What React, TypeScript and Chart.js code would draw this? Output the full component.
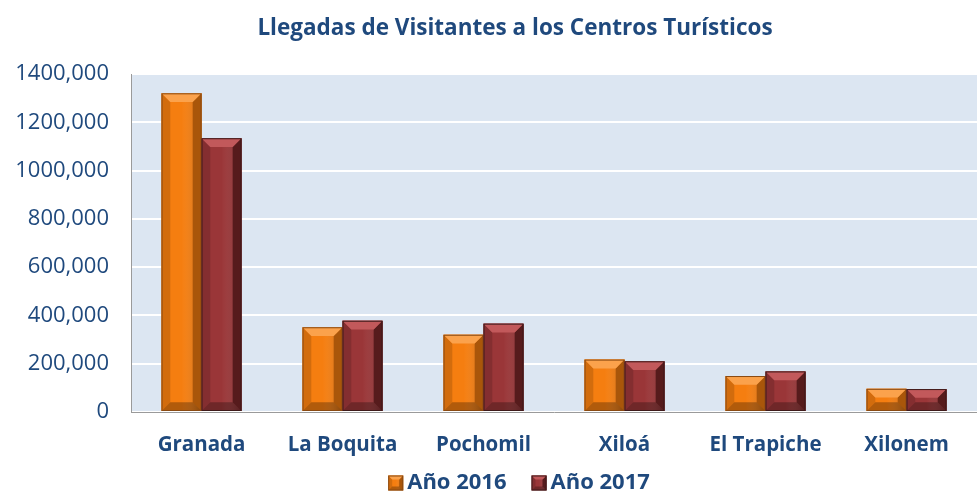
import React, { useEffect, useRef } from "react";
import { Chart, registerables } from "chart.js";

Chart.register(...registerables);

const titleText = "Llegadas de Visitantes a los Centros Turísticos";
const categories = ["Granada", "La Boquita", "Pochomil", "Xiloá", "El Trapiche", "Xilonem"];
const values2016 = [1320000, 351000, 320000, 217000, 149000, 96000];
const values2017 = [1134000, 378000, 366000, 210000, 168000, 95000];
const seriesNames = ["Año 2016", "Año 2017"];
const tickLabels: Record<number, string> = {
  0: "0",
  200000: "200,000",
  400000: "400,000",
  600000: "600,000",
  800000: "800,000",
  1000000: "1000,000",
  1200000: "1200,000",
  1400000: "1400,000",
};

const TEXT = "#1F497D";
const FONT = "'Open Sans', 'Noto Sans', sans-serif";

const palettes = [
  { base: "#F57E10", light: "#FBA24C", dark: "#A9560A", edge: "#8A4A12" },
  { base: "#9A3638", light: "#C2595B", dark: "#561B1C", edge: "#3E1A1A" },
];

function drawBevelBox(ctx: any, l: number, t: number, width: number, h: number, p: any, bv: number) {
  const r = l + width;
  const b = t + h;
  ctx.save();
  ctx.fillStyle = p.base;
  ctx.fillRect(l, t, width, h);
  const lg = ctx.createLinearGradient(l, 0, r, 0);
  lg.addColorStop(0, "rgba(255,255,255,0.0)");
  lg.addColorStop(0.5, "rgba(255,255,255,0.0)");
  lg.addColorStop(1, "rgba(0,0,0,0.22)");
  ctx.fillStyle = lg;
  ctx.fillRect(l, t, width, h);
  ctx.beginPath();
  ctx.moveTo(r, t);
  ctx.lineTo(r - bv, t + bv);
  ctx.lineTo(r - bv, b - bv);
  ctx.lineTo(r, b);
  ctx.closePath();
  ctx.fillStyle = p.dark;
  ctx.fill();
  ctx.beginPath();
  ctx.moveTo(l, t);
  ctx.lineTo(l + bv, t + bv);
  ctx.lineTo(l + bv, b - bv);
  ctx.lineTo(l, b);
  ctx.closePath();
  ctx.fillStyle = "rgba(0,0,0,0.14)";
  ctx.fill();
  ctx.beginPath();
  ctx.moveTo(l, t);
  ctx.lineTo(r, t);
  ctx.lineTo(r - bv, t + bv);
  ctx.lineTo(l + bv, t + bv);
  ctx.closePath();
  ctx.fillStyle = p.light;
  ctx.fill();
  ctx.beginPath();
  ctx.moveTo(l, b);
  ctx.lineTo(r, b);
  ctx.lineTo(r - bv, b - bv);
  ctx.lineTo(l + bv, b - bv);
  ctx.closePath();
  ctx.fillStyle = "rgba(0,0,0,0.28)";
  ctx.fill();
  ctx.strokeStyle = p.edge;
  ctx.lineWidth = 1;
  ctx.strokeRect(l + 0.5, t + 0.5, width - 1, h - 1);
  ctx.restore();
}

const bgPlugin = {
  id: "plotBg",
  beforeDraw(chart: any) {
    const { ctx, chartArea } = chart;
    ctx.save();
    ctx.fillStyle = "#DCE6F2";
    ctx.fillRect(chartArea.left, chartArea.top, chartArea.right - chartArea.left, chartArea.bottom - chartArea.top);
    ctx.restore();
  },
};

const bevelPlugin = {
  id: "bevel",
  afterDatasetsDraw(chart: any) {
    const ctx = chart.ctx;
    chart.data.datasets.forEach((_: any, di: number) => {
      const meta = chart.getDatasetMeta(di);
      const p = palettes[di];
      meta.data.forEach((bar: any) => {
        const { x, y, base, width } = bar.getProps(["x", "y", "base", "width"], true);
        const h = base - y;
        const bv = Math.min(9, width * 0.22, h / 2.5);
        drawBevelBox(ctx, x - width / 2, y, width, h, p, bv);
      });
    });
  },
};

const textPlugin = {
  id: "titleLegend",
  afterDraw(chart: any) {
    const ctx = chart.ctx;
    ctx.save();
    // title
    ctx.font = `bold 22.5px ${FONT}`;
    ctx.fillStyle = TEXT;
    ctx.textBaseline = "middle";
    ctx.textAlign = "center";
    ctx.fillText(titleText, 515, 29);
    // legend
    const box = 15;
    const gapText = 4;
    const gapItem = 25;
    ctx.font = `bold 22px ${FONT}`;
    ctx.textAlign = "left";
    const names = chart.data.datasets.map((d: any) => d.label);
    const widths = names.map((n: string) => ctx.measureText(n).width);
    const total = widths.reduce((a: number, w: number) => a + box + gapText + w, 0) + gapItem * (names.length - 1);
    const cx = 519;
    const cy = 483;
    let x = cx - total / 2;
    names.forEach((n: string, i: number) => {
      drawBevelBox(ctx, x, cy - box / 2, box, box, palettes[i], 4);
      x += box + gapText;
      ctx.fillStyle = TEXT;
      ctx.fillText(n, x, cy);
      x += widths[i] + gapItem;
    });
    ctx.restore();
  },
};

export default function App() {
  const ref = useRef<HTMLCanvasElement>(null);
  useEffect(() => {
    if (!ref.current) return;
    const chart = new Chart(ref.current, {
      type: "bar",
      data: {
        labels: categories,
        datasets: [
          { label: seriesNames[0], data: values2016, backgroundColor: palettes[0].base, borderWidth: 0 },
          { label: seriesNames[1], data: values2017, backgroundColor: palettes[1].base, borderWidth: 0 },
        ],
      },
      options: {
        animation: false,
        responsive: false,
        maintainAspectRatio: false,
        layout: { padding: { left: 0, right: 0, top: 74, bottom: 30 } },
        datasets: { bar: { categoryPercentage: 0.567, barPercentage: 1.0 } },
        plugins: {
          tooltip: { enabled: false },
          legend: { display: false },
          title: { display: false },
        },
        scales: {
          x: {
            afterFit: (s: any) => {
              s.height = 50;
            },
            grid: { display: false, drawTicks: false },
            border: { display: true, color: "#9A9A9A", width: 1 },
            ticks: { color: TEXT, font: { family: FONT, size: 20.5, weight: "bold" }, padding: 21 },
          },
          y: {
            min: 0,
            max: 1400000,
            afterFit: (s: any) => {
              s.width = 131;
            },
            afterBuildTicks: (s: any) => {
              s.ticks = Object.keys(tickLabels).map((k) => ({ value: Number(k) }));
            },
            grid: { color: "#FFFFFF", lineWidth: 2, drawTicks: false },
            border: { display: true, color: "#9A9A9A", width: 1 },
            ticks: {
              color: TEXT,
              font: { family: FONT, size: 22 },
              padding: 22,
              callback: (v: any) => tickLabels[Number(v)] ?? "",
            },
          },
        },
      },
      plugins: [bgPlugin, bevelPlugin, textPlugin],
    });
    return () => chart.destroy();
  }, []);
  return (
    <div style={{ position: "fixed", left: 0, top: 0, width: 977, height: 492, background: "#fff" }}>
      <canvas ref={ref} width={977} height={492} style={{ width: 977, height: 492 }} />
    </div>
  );
}
